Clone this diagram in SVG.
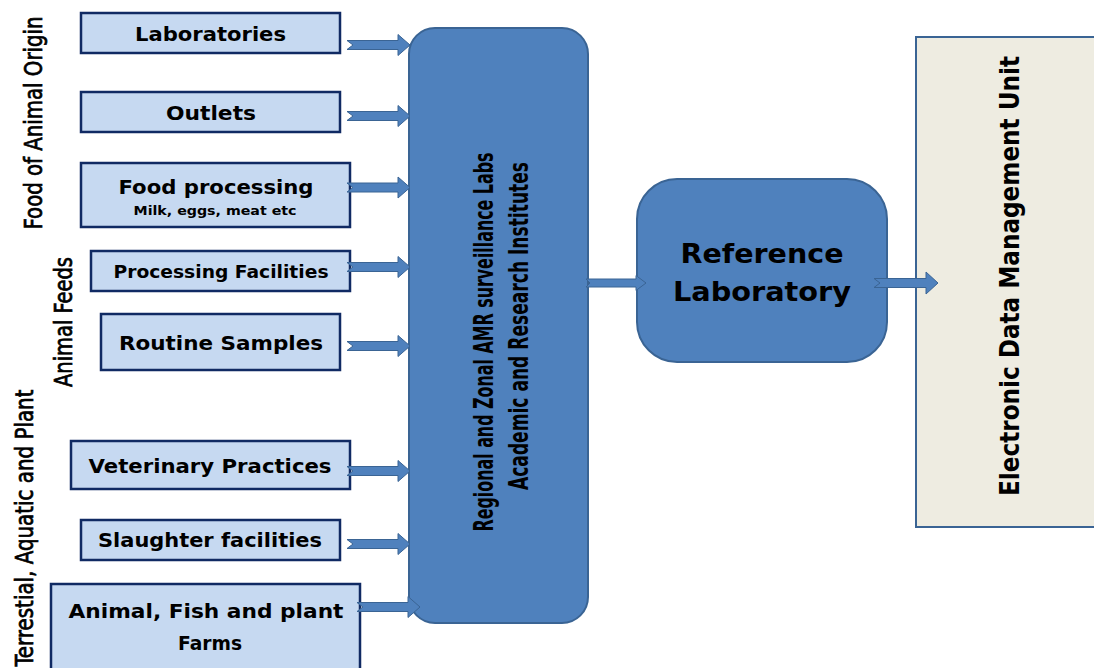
<svg xmlns="http://www.w3.org/2000/svg" xmlns:xlink="http://www.w3.org/1999/xlink" width="1094" height="668" viewBox="0 0 1094 668">
<style>
.src{fill:#c6d9f1;stroke:#102a63;stroke-width:2.5}
.st{font-family:"DejaVu Sans",Verdana,sans-serif;font-weight:bold;fill:#000;text-anchor:middle}
.rot{font-family:"DejaVu Sans Condensed","DejaVu Sans",sans-serif;fill:#000;text-anchor:middle}
.side{font-family:"DejaVu Sans Condensed","DejaVu Sans",sans-serif;fill:#000;stroke:#000;stroke-width:0.7;text-anchor:middle}
.blue{fill:#4f81bd;stroke:#3a6494;stroke-width:2}
.arr{fill:#4f81bd;stroke:#3a6494;stroke-width:1}
</style>
<defs>
<path id="arrA" d="M0,-4.5 L51,-4.5 L51,-10.5 L63,0 L51,10.5 L51,4.5 L0,4.5 L6,0 Z"/>
<path id="arrB" d="M0,-4 L50,-4 L50,-7.5 L60,0 L50,7.5 L50,4 L0,4 L4,0 Z"/>
<path id="arrC" d="M0,-4.5 L52,-4.5 L52,-11 L64,0 L52,11 L52,4.5 L0,4.5 L6,0 Z"/>
</defs>

<g id="group-labels">
<text class="side" font-size="25" transform="translate(42,123) rotate(-90)" textLength="213" lengthAdjust="spacingAndGlyphs">Food of Animal Origin</text>
<text class="side" font-size="25" transform="translate(72,322) rotate(-90)" textLength="130" lengthAdjust="spacingAndGlyphs">Animal Feeds</text>
<text class="side" font-size="25" transform="translate(33,528) rotate(-90)" textLength="277" lengthAdjust="spacingAndGlyphs">Terrestial, Aquatic and Plant</text>
</g>

<g id="laboratories">
<rect class="src" x="81" y="13" width="259" height="40"/>
<text class="st" x="210.5" y="41" font-size="20" textLength="151" lengthAdjust="spacingAndGlyphs">Laboratories</text>
</g>
<g id="outlets">
<rect class="src" x="81" y="92" width="259" height="40"/>
<text class="st" x="211" y="120" font-size="20" textLength="90" lengthAdjust="spacingAndGlyphs">Outlets</text>
</g>
<g id="food-processing">
<rect class="src" x="81" y="163" width="269" height="64"/>
<text class="st" x="216" y="194" font-size="20" textLength="195" lengthAdjust="spacingAndGlyphs">Food processing</text>
<text class="st" x="215" y="215" font-size="13" textLength="163" lengthAdjust="spacingAndGlyphs">Milk, eggs, meat etc</text>
</g>
<g id="processing-facilities">
<rect class="src" x="91" y="251" width="259" height="40"/>
<text class="st" x="221" y="278" font-size="18" textLength="215" lengthAdjust="spacingAndGlyphs">Processing Facilities</text>
</g>
<g id="routine-samples">
<rect class="src" x="101" y="314" width="239" height="56"/>
<text class="st" x="221" y="350" font-size="19" textLength="204" lengthAdjust="spacingAndGlyphs">Routine Samples</text>
</g>
<g id="veterinary-practices">
<rect class="src" x="71" y="441" width="279" height="48"/>
<text class="st" x="210" y="473" font-size="20" textLength="243" lengthAdjust="spacingAndGlyphs">Veterinary Practices</text>
</g>
<g id="slaughter-facilities">
<rect class="src" x="81" y="520" width="259" height="40"/>
<text class="st" x="210" y="547" font-size="20" textLength="224" lengthAdjust="spacingAndGlyphs">Slaughter facilities</text>
</g>
<g id="farms">
<rect class="src" x="51" y="584" width="309" height="90"/>
<text class="st" x="206" y="618" font-size="20" textLength="275" lengthAdjust="spacingAndGlyphs">Animal, Fish and plant</text>
<text class="st" x="210" y="650" font-size="20" textLength="64" lengthAdjust="spacingAndGlyphs">Farms</text>
</g>

<g id="regional-labs">
<rect class="blue" x="409" y="28" width="179" height="595" rx="26"/>
<text class="rot" font-size="26" font-weight="bold" transform="translate(493,342) rotate(-90)" textLength="379" lengthAdjust="spacingAndGlyphs">Regional and Zonal AMR surveillance Labs</text>
<text class="rot" font-size="26" font-weight="bold" transform="translate(528,326) rotate(-90)" textLength="328" lengthAdjust="spacingAndGlyphs">Academic and Research Institutes</text>
</g>

<g id="reference-laboratory">
<rect class="blue" x="637" y="179" width="250" height="183" rx="40"/>
<text class="st" x="762" y="263" font-size="26" textLength="163" lengthAdjust="spacingAndGlyphs">Reference</text>
<text class="st" x="762" y="301" font-size="26" textLength="178" lengthAdjust="spacingAndGlyphs">Laboratory</text>
</g>

<g id="edmu">
<rect x="916" y="37" width="190" height="490" fill="#eeece1" stroke="#3a6494" stroke-width="2"/>
<text class="rot" font-size="27" font-weight="bold" transform="translate(1019,276) rotate(-90)" textLength="440" lengthAdjust="spacingAndGlyphs">Electronic Data Management Unit</text>
</g>

<g id="connectors">
<use xlink:href="#arrA" class="arr" x="347" y="45"/>
<use xlink:href="#arrA" class="arr" x="347" y="116"/>
<use xlink:href="#arrA" class="arr" x="347" y="187.5"/>
<use xlink:href="#arrA" class="arr" x="347" y="267"/>
<use xlink:href="#arrA" class="arr" x="347" y="346"/>
<use xlink:href="#arrA" class="arr" x="347" y="471"/>
<use xlink:href="#arrA" class="arr" x="347" y="544"/>
<use xlink:href="#arrA" class="arr" x="357" y="607"/>
<use xlink:href="#arrB" class="arr" x="586" y="283"/>
<use xlink:href="#arrC" class="arr" x="874" y="283"/>
</g>
</svg>
